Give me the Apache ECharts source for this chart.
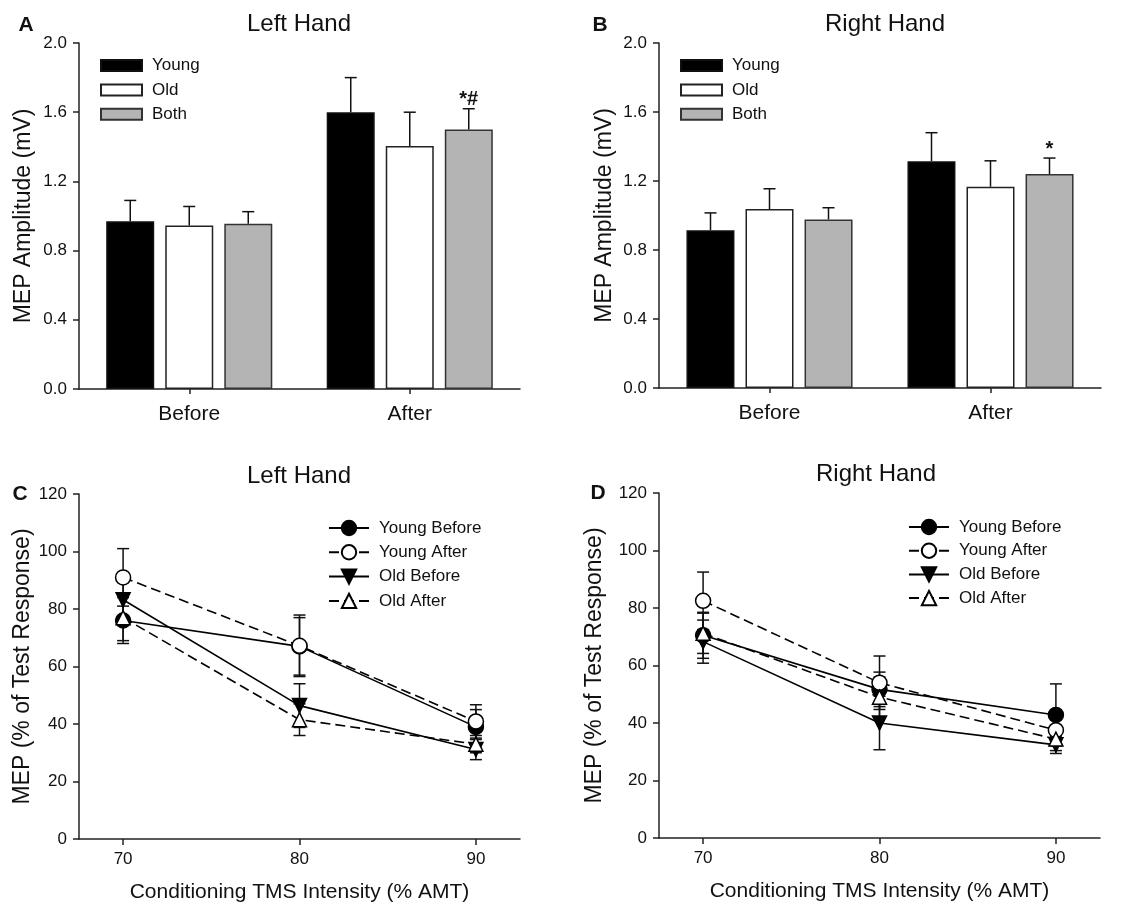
<!DOCTYPE html>
<html>
<head>
<meta charset="utf-8">
<script src="https://cdn.jsdelivr.net/npm/echarts@6/dist/echarts.min.js"></script>
<style>
    html, body { margin: 0; background: #fff; }
    #chart { width: 1139px; height: 908px; }
</style>
</head>
<body>
<div id="chart"></div>
<script>
// ---- data ----
var phases = ['Before', 'After'];
var groupNames = ['Young', 'Old', 'Both'];

// A: left hand, MEP amplitude (mV), mean and SE
var leftYoung = [0.97, 1.60];
var leftYoungErr = [0.12, 0.20];
var leftOld = [0.945, 1.405];
var leftOldErr = [0.11, 0.195];
var leftBoth = [0.955, 1.50];
var leftBothErr = [0.07, 0.12];
var leftMarks = ['', '*#'];

// B: right hand
var rightYoung = [0.915, 1.315];
var rightYoungErr = [0.10, 0.165];
var rightOld = [1.037, 1.167];
var rightOldErr = [0.118, 0.15];
var rightBoth = [0.977, 1.24];
var rightBothErr = [0.068, 0.093];
var rightMarks = ['', '*'];

// C / D: MEP (% of test response) vs conditioning intensity
var intensity = [70, 80, 90];
var lineNames = ['Young Before', 'Young After', 'Old Before', 'Old After'];

var leftYoungBefore = [76, 67, 39];
var leftYoungBeforeErr = [8, 10, 6];
var leftYoungAfter = [91, 67.2, 40.9];
var leftYoungAfterErr = [10, 10.7, 5.8];
var leftOldBefore = [83.2, 46.4, 31.1];
var leftOldBeforeErr = [6, 7.6, 3.5];
var leftOldAfter = [77, 41.5, 33];
var leftOldAfterErr = [8, 5.5, 3];

var rightYoungBefore = [70.5, 51.7, 42.8];
var rightYoungBeforeErr = [8, 6, 10.8];
var rightYoungAfter = [82.5, 54, 37.5];
var rightYoungAfterErr = [10, 9.3, 4];
var rightOldBefore = [68.3, 40, 32.4];
var rightOldBeforeErr = [7.5, 9.3, 3];
var rightOldAfter = [71.2, 49, 34.4];
var rightOldAfterErr = [7, 7, 4];

// ---- helpers ----
var FONT = 'Liberation Sans, Arial, sans-serif';
var INK = '#111';
var BAR_STEP = 59; // bar width 48 + gap 11

function pairs(xs, ys) {
    return xs.map(function (x, i) { return [x, ys[i]]; });
}
function triples(xs, ys, es) {
    return xs.map(function (x, i) { return [x, ys[i], es[i]]; });
}

function barErrorItem(offset, marks) {
    return function (params, api) {
        var c = api.value(0), v = api.value(1), e = api.value(2);
        var p0 = api.coord([c, v]);
        var p1 = api.coord([c, v + e]);
        var x = p0[0] + offset;
        var st = { stroke: INK, lineWidth: 1.5 };
        var kids = [
            { type: 'line', shape: { x1: x, y1: p0[1], x2: x, y2: p1[1] }, style: st },
            { type: 'line', shape: { x1: x - 6, y1: p1[1], x2: x + 6, y2: p1[1] }, style: st }
        ];
        if (marks && marks[params.dataIndex]) {
            kids.push({
                type: 'text',
                style: {
                    text: marks[params.dataIndex], x: x, y: p1[1] - 9,
                    align: 'center', verticalAlign: 'middle',
                    font: 'bold 20px ' + FONT, fill: INK
                }
            });
        }
        return { type: 'group', children: kids };
    };
}

function lineErrorItem(params, api) {
    var x = api.value(0), y = api.value(1), e = api.value(2);
    var hi = api.coord([x, y + e]);
    var lo = api.coord([x, y - e]);
    var st = { stroke: INK, lineWidth: 1.5 };
    return {
        type: 'group', children: [
            { type: 'line', shape: { x1: hi[0], y1: hi[1], x2: lo[0], y2: lo[1] }, style: st },
            { type: 'line', shape: { x1: hi[0] - 6, y1: hi[1], x2: hi[0] + 6, y2: hi[1] }, style: st },
            { type: 'line', shape: { x1: lo[0] - 6, y1: lo[1], x2: lo[0] + 6, y2: lo[1] }, style: st }
        ]
    };
}

var axisLineStyle = { lineStyle: { color: '#222', width: 1.5 } };
var axisTickStyle = { show: true, length: 6, lineStyle: { color: '#222', width: 1.5 } };

function barYAxis(idx, gap) {
    return {
        type: 'value', gridIndex: idx, min: 0, max: 2, interval: 0.4,
        name: 'MEP Amplitude (mV)', nameLocation: 'middle', nameGap: gap, nameMoveOverlap: false,
        nameTextStyle: { fontFamily: FONT, fontSize: 23, color: INK },
        axisLine: { show: true, lineStyle: axisLineStyle.lineStyle },
        axisTick: axisTickStyle,
        splitLine: { show: false },
        axisLabel: {
            fontFamily: FONT, fontSize: 17, color: INK, margin: 12,
            formatter: function (v) { return v.toFixed(1); }
        }
    };
}
function barXAxis(idx) {
    return {
        type: 'category', gridIndex: idx, data: phases,
        axisLine: axisLineStyle,
        axisTick: { show: true, alignWithLabel: true, length: 5, lineStyle: axisTickStyle.lineStyle },
        axisLabel: { fontFamily: FONT, fontSize: 21, color: INK, margin: 15 },
        splitLine: { show: false }
    };
}
function lineYAxis(idx, gap) {
    return {
        type: 'value', gridIndex: idx, min: 0, max: 120, interval: 20,
        name: 'MEP (% of Test Response)', nameLocation: 'middle', nameGap: gap, nameMoveOverlap: false,
        nameTextStyle: { fontFamily: FONT, fontSize: 23, color: INK },
        axisLine: { show: true, lineStyle: axisLineStyle.lineStyle },
        axisTick: axisTickStyle,
        splitLine: { show: false },
        axisLabel: { fontFamily: FONT, fontSize: 17, color: INK, margin: 12 }
    };
}
function lineXAxis(idx) {
    return {
        type: 'value', gridIndex: idx, min: 67.5, max: 92.5,
        name: 'Conditioning TMS Intensity (% AMT)', nameLocation: 'middle', nameGap: 43, nameMoveOverlap: false,
        nameTextStyle: { fontFamily: FONT, fontSize: 21, color: INK },
        axisLine: axisLineStyle,
        axisTick: { show: true, length: 6, lineStyle: axisTickStyle.lineStyle, customValues: intensity },
        axisLabel: { fontFamily: FONT, fontSize: 17, color: INK, margin: 12, customValues: intensity },
        splitLine: { show: false }
    };
}

var barStyles = [
    { color: '#000', borderColor: '#111', borderWidth: 1.5 },
    { color: '#fff', borderColor: '#222', borderWidth: 1.5 },
    { color: '#b4b4b4', borderColor: '#333', borderWidth: 1.5 }
];

function barSeries(idx, values, errs, marks) {
    var out = [];
    values.forEach(function (vals, k) {
        out.push({
            type: 'bar', name: groupNames[k], xAxisIndex: idx, yAxisIndex: idx,
            data: vals, barWidth: 48, barGap: '23%', z: 2,
            itemStyle: barStyles[k]
        });
    });
    values.forEach(function (vals, k) {
        out.push({
            type: 'custom', name: 'err' + idx + '_' + k, xAxisIndex: idx, yAxisIndex: idx, z: 3,
            renderItem: barErrorItem((k - 1) * BAR_STEP, k === 2 ? marks : null),
            data: triples([0, 1], vals, errs[k])
        });
    });
    return out;
}

var lineLooks = [
    { symbol: 'circle', rotate: 0, fill: '#000', dash: 'solid' },
    { symbol: 'circle', rotate: 0, fill: '#fff', dash: [10, 5] },
    { symbol: 'triangle', rotate: 180, fill: '#000', dash: 'solid' },
    { symbol: 'triangle', rotate: 0, fill: '#fff', dash: [10, 5] }
];

function lineSeries(idx, values, errs) {
    var out = [];
    values.forEach(function (vals, k) {
        out.push({
            type: 'custom', name: 'lerr' + idx + '_' + k, xAxisIndex: idx, yAxisIndex: idx, z: 1,
            renderItem: lineErrorItem,
            data: triples(intensity, vals, errs[k])
        });
    });
    values.forEach(function (vals, k) {
        var look = lineLooks[k];
        out.push({
            type: 'line', name: lineNames[k], xAxisIndex: idx, yAxisIndex: idx, z: 3,
            data: pairs(intensity, vals),
            symbol: look.symbol, symbolSize: look.symbol === 'circle' ? 15 : 14,
            symbolRotate: look.rotate, showAllSymbol: true,
            itemStyle: { color: look.fill, borderColor: '#000', borderWidth: 1.5 },
            lineStyle: { color: '#000', width: 1.6, type: look.dash }
        });
    });
    return out;
}

function barLegend(left) {
    return {
        data: groupNames, orient: 'vertical', left: left, top: 57, padding: 0,
        itemWidth: 41, itemHeight: 11, itemGap: 7.4, icon: 'rect', selectedMode: false,
        textStyle: { fontFamily: FONT, fontSize: 17, color: INK, padding: [0, 0, 0, 5] }
    };
}
function lineLegend(left, top, gap) {
    return {
        data: lineNames, orient: 'vertical', left: left, top: top, padding: 0,
        itemWidth: 40, itemHeight: 18, itemGap: gap, selectedMode: false,
        textStyle: { fontFamily: FONT, fontSize: 17, color: INK, lineHeight: 18, padding: [0, 0, 0, 5] }
    };
}

function label(text, x, y, size, bold) {
    return {
        type: 'text', x: x, y: y,
        style: {
            text: text, align: 'center', verticalAlign: 'middle', fill: INK,
            font: (bold ? 'bold ' : '') + size + 'px ' + FONT
        }
    };
}

var chart = echarts.init(document.getElementById('chart'), null, { renderer: 'canvas' });

var series = []
    .concat(barSeries(0, [leftYoung, leftOld, leftBoth], [leftYoungErr, leftOldErr, leftBothErr], leftMarks))
    .concat(barSeries(1, [rightYoung, rightOld, rightBoth], [rightYoungErr, rightOldErr, rightBothErr], rightMarks))
    .concat(lineSeries(2, [leftYoungBefore, leftYoungAfter, leftOldBefore, leftOldAfter],
        [leftYoungBeforeErr, leftYoungAfterErr, leftOldBeforeErr, leftOldAfterErr]))
    .concat(lineSeries(3, [rightYoungBefore, rightYoungAfter, rightOldBefore, rightOldAfter],
        [rightYoungBeforeErr, rightYoungAfterErr, rightOldBeforeErr, rightOldAfterErr]));

chart.setOption({
    animation: false,
    backgroundColor: '#fff',
    textStyle: { fontFamily: FONT },
    grid: [
        { left: 79, top: 43, width: 441, height: 346 },
        { left: 659, top: 43, width: 442, height: 345 },
        { left: 79, top: 494, width: 441, height: 345 },
        { left: 659, top: 493, width: 441, height: 345 }
    ],
    xAxis: [barXAxis(0), barXAxis(1), lineXAxis(2), lineXAxis(3)],
    yAxis: [barYAxis(0, 44), barYAxis(1, 43), lineYAxis(2, 45), lineYAxis(3, 53)],
    legend: [
        barLegend(100),
        barLegend(680),
        lineLegend(328, 519, 6.3),
        lineLegend(908, 518, 5.7)
    ],
    graphic: [
        label('A', 26, 25, 21, true),
        label('B', 600, 25, 21, true),
        label('C', 20, 494, 21, true),
        label('D', 598, 493, 21, true),
        label('Left Hand', 299, 24, 24, false),
        label('Right Hand', 885, 24, 24, false),
        label('Left Hand', 299, 476, 24, false),
        label('Right Hand', 876, 474, 24, false)
    ],
    series: series
});
</script>
</body>
</html>
